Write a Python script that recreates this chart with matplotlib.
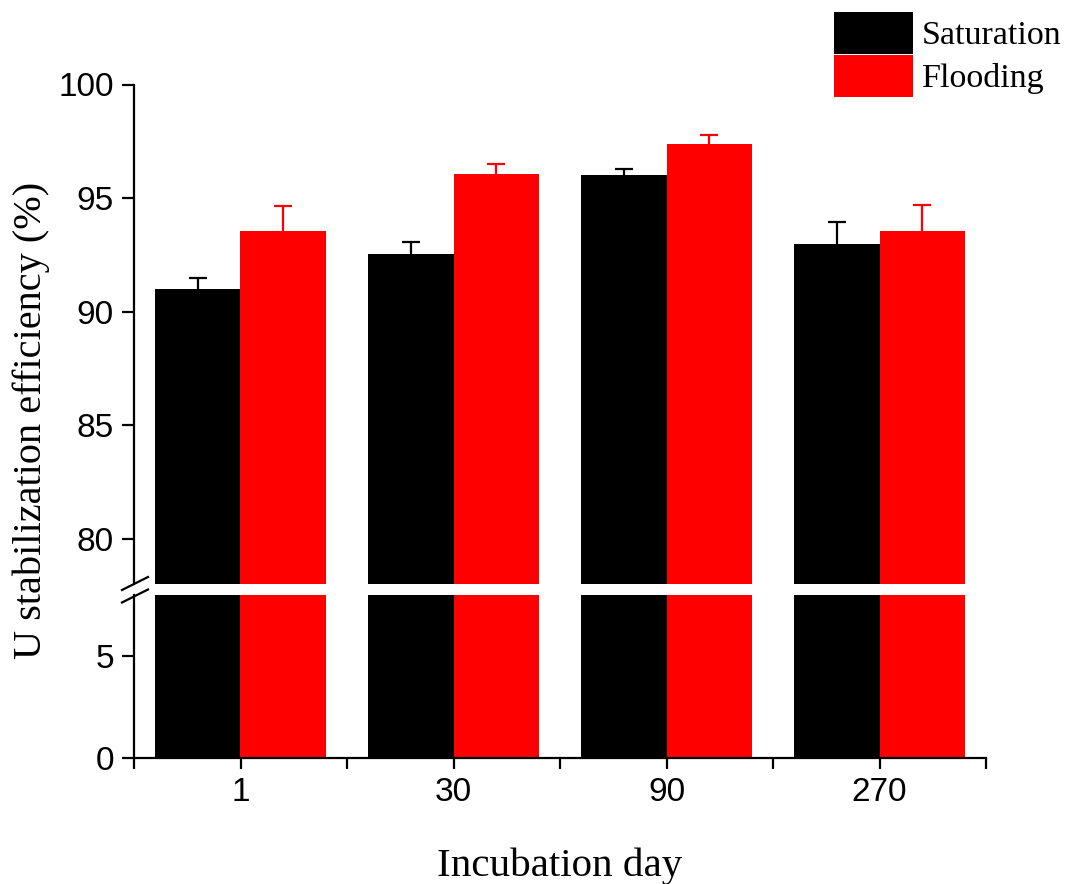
import matplotlib
matplotlib.use("Agg")
import matplotlib.pyplot as plt
from matplotlib.patches import Patch
import numpy as np

days = ["1", "30", "90", "270"]
saturation = [90.99, 92.53, 96.03, 92.99]
saturation_err = [0.49, 0.53, 0.25, 0.94]
flooding = [93.53, 96.07, 97.39, 93.56]
flooding_err = [1.10, 0.43, 0.38, 1.15]

W, H = 1068, 884
fig = plt.figure(figsize=(W / 100, H / 100), dpi=100)

left, right = 134 / W, 986 / W
ax_top = fig.add_axes([left, (H - 584) / H, right - left, (584 - 84.5) / H])
ax_bot = fig.add_axes([left, (H - 758) / H, right - left, (758 - 595) / H])

x = np.arange(1, len(days) + 1)
bw = 0.4
for ax in (ax_top, ax_bot):
    ax.bar(x - bw / 2, saturation, width=bw, color="black", linewidth=0)
    ax.bar(x + bw / 2, flooding, width=bw, color="#ff0000", linewidth=0)
    ax.set_xlim(0.5, 4.5)
    for s in ("top", "right"):
        ax.spines[s].set_visible(False)
    ax.spines["left"].set_linewidth(1.6)
    ax.spines["bottom"].set_linewidth(1.6)
    ax.tick_params(axis="y", direction="out", length=8.5, width=1.6,
                   labelsize=24, pad=6)

for vals, errs, col in ((saturation, saturation_err, "black"),
                        (flooding, flooding_err, "#ff0000")):
    off = -bw / 2 if col == "black" else bw / 2
    eb = ax_top.errorbar(x + off, vals, yerr=[np.zeros(4), errs],
                         fmt="none", ecolor=col, elinewidth=1.6, capsize=6.5,
                         capthick=1.6)
    eb[1][0].set_visible(False)  # hide lower caps

ax_top.set_ylim(78, 100)
ax_top.set_yticks([80, 85, 90, 95, 100])
ax_top.spines["bottom"].set_visible(False)
ax_top.tick_params(axis="x", bottom=False, labelbottom=False)

ax_bot.set_ylim(0, 8)
ax_bot.set_yticks([0, 5])
ax_bot.set_xticks(x)
ax_bot.set_xticklabels(days)
ax_bot.set_xticks([0.5, 1.5, 2.5, 3.5, 4.5], minor=True)
ax_bot.tick_params(axis="x", which="both", direction="out", length=8, width=1.6,
                   labelsize=24, pad=6)
for lab in ax_bot.get_xticklabels() + ax_bot.get_yticklabels() + ax_top.get_yticklabels():
    lab.set_fontfamily("Liberation Sans")
    lab.set_fontsize(24)

# break marks
for yc in (583.5, 596):
    x0, x1 = 122 / W, 148 / W
    y0, y1 = (H - yc - 6.5) / H, (H - yc + 6.5) / H
    fig.add_artist(plt.Line2D([x0, x1], [y0, y1], transform=fig.transFigure,
                              color="black", linewidth=1.6))

fig.text(560 / W, 1 - 866 / H, "Incubation day", ha="center", va="center",
         fontfamily="Liberation Serif", fontsize=29.5)
fig.text(31 / W, 1 - 420 / H, "U stabilization efficiency (%)", ha="center",
         va="center", rotation=90, fontfamily="Liberation Serif", fontsize=29)

handles = [Patch(facecolor="black", edgecolor="none"),
           Patch(facecolor="#ff0000", edgecolor="none")]
fig.legend(handles, ["Saturation", "Flooding"], loc="upper left",
           bbox_to_anchor=(834 / W, 1 - 12 / H), frameon=False, borderpad=0,
           borderaxespad=0, handlelength=2.33, handleheight=1.5, labelspacing=0.05,
           handletextpad=0.26, prop={"family": "Liberation Serif", "size": 24.5})

fig.savefig("out.png", dpi=100)
